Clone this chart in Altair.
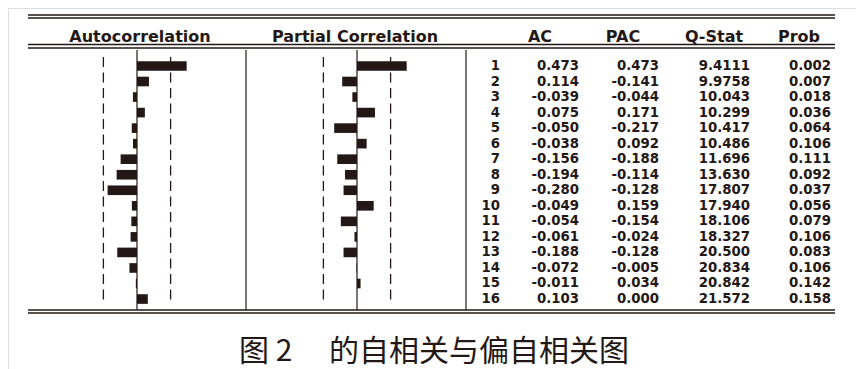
import altair as alt
import pandas as pd

# ---------------- data ----------------
lags = list(range(1, 17))
ac = [0.473, 0.114, -0.039, 0.075, -0.050, -0.038, -0.156, -0.194,
      -0.280, -0.049, -0.054, -0.061, -0.188, -0.072, -0.011, 0.103]
pac = [0.473, -0.141, -0.044, 0.171, -0.217, 0.092, -0.188, -0.114,
       -0.128, 0.159, -0.154, -0.024, -0.128, -0.005, 0.034, 0.000]
qstat = [9.4111, 9.9758, 10.043, 10.299, 10.417, 10.486, 11.696, 13.630,
         17.807, 17.940, 18.106, 18.327, 20.500, 20.834, 20.842, 21.572]
prob = [0.002, 0.007, 0.018, 0.036, 0.064, 0.106, 0.111, 0.092,
        0.037, 0.056, 0.079, 0.106, 0.083, 0.106, 0.142, 0.158]
conf_bound = 0.32  # approx. 2/sqrt(n) dashed bounds
headers = ["Autocorrelation", "Partial Correlation", "AC", "PAC", "Q-Stat", "Prob"]
caption = "图 2\u3000 的自相关与偏自相关图"

INK = "#231815"
FONT = "DejaVu Sans"
W, H = 848, 361

# ---------------- tables built from the arrays ----------------
bars = pd.DataFrame({"lag": lags, "ac": ac, "pac": pac})
bars["zero"] = 0.0
bars["y0"] = bars["lag"] - 0.31
bars["y1"] = bars["lag"] + 0.31

rows = []
for i, lag in enumerate(lags):
    vals = [str(lag), f"{ac[i]:.3f}", f"{pac[i]:.3f}", f"{qstat[i]:#.5g}", f"{prob[i]:.3f}"]
    for c, v in enumerate(vals):
        rows.append({"lag": lag, "col": c, "txt": v})
table = pd.DataFrame(rows)

hdr = pd.DataFrame({"idx": list(range(len(headers))), "name": headers})
bounds = pd.DataFrame({"b": [-conf_bound, conf_bound]})
zero_df = pd.DataFrame({"z": [0.0]})
cap_df = pd.DataFrame({"t": [caption]})

# ---------------- scales ----------------
yscale = alt.Scale(domain=[0.5, 16.5], range=[50.2, 298.8], nice=False, zero=False)
ac_scale = alt.Scale(domain=[-1, 1], range=[24, 234], nice=False, zero=False)
pac_scale = alt.Scale(domain=[-1, 1], range=[244, 454], nice=False, zero=False)
col_scale = alt.Scale(domain=[0, 1, 2, 3, 4], range=[492, 571, 651, 742, 823],
                      nice=False, zero=False)
hdr_scale = alt.Scale(domain=[0, 1, 2, 3, 4, 5], range=[132, 347, 532, 615, 706, 791],
                      nice=False, zero=False)

layers = []

# horizontal table rules
for yy in [7, 10, 36.5, 40, 302, 305]:
    layers.append(
        alt.Chart(zero_df).mark_rule(color=INK, strokeWidth=1.4).encode(
            x=alt.value(20), x2=alt.value(827), y=alt.value(yy))
    )

# vertical separators
for xx in [238, 458]:
    layers.append(
        alt.Chart(zero_df).mark_rule(color=INK, strokeWidth=1.2).encode(
            x=alt.value(xx), y=alt.value(42), y2=alt.value(302))
    )

for field, sc in [("ac", ac_scale), ("pac", pac_scale)]:
    # zero line
    layers.append(
        alt.Chart(zero_df).mark_rule(color=INK, strokeWidth=1.2).encode(
            x=alt.X("z:Q", scale=sc, axis=None), y=alt.value(42), y2=alt.value(302))
    )
    # confidence bounds
    layers.append(
        alt.Chart(bounds).mark_rule(color=INK, strokeWidth=1.3, strokeDash=[10, 5.5]).encode(
            x=alt.X("b:Q", scale=sc, axis=None), y=alt.value(49), y2=alt.value(297))
    )
    # bars
    layers.append(
        alt.Chart(bars).mark_rect(color=INK).encode(
            x=alt.X(f"{field}:Q", scale=sc, axis=None),
            x2="zero:Q",
            y=alt.Y("y0:Q", scale=yscale, axis=None),
            y2="y1:Q",
        )
    )

# numeric table
layers.append(
    alt.Chart(table).mark_text(align="right", baseline="middle", font=FONT,
                               fontSize=13.3, fontWeight="bold", color=INK).encode(
        x=alt.X("col:Q", scale=col_scale, axis=None),
        y=alt.Y("lag:Q", scale=yscale, axis=None),
        text="txt:N",
    )
)

# headers
layers.append(
    alt.Chart(hdr).mark_text(align="center", baseline="middle", font=FONT,
                             fontSize=16, fontWeight="bold", color=INK).encode(
        x=alt.X("idx:Q", scale=hdr_scale, axis=None),
        y=alt.value(28.5),
        text="name:N",
    )
)

# caption
layers.append(
    alt.Chart(cap_df).mark_text(align="center", baseline="middle",
                                font="Noto Sans CJK SC", fontSize=30, color=INK).encode(
        x=alt.value(426), y=alt.value(344), text="t:N")
)

chart = alt.layer(*layers).resolve_scale(x="independent").properties(
    width=W, height=H, autosize=alt.AutoSizeParams(type="none"), padding=0
).configure_view(stroke=None).configure(background="white")

chart.save("out.html", embed_options={"renderer": "svg", "actions": False})
